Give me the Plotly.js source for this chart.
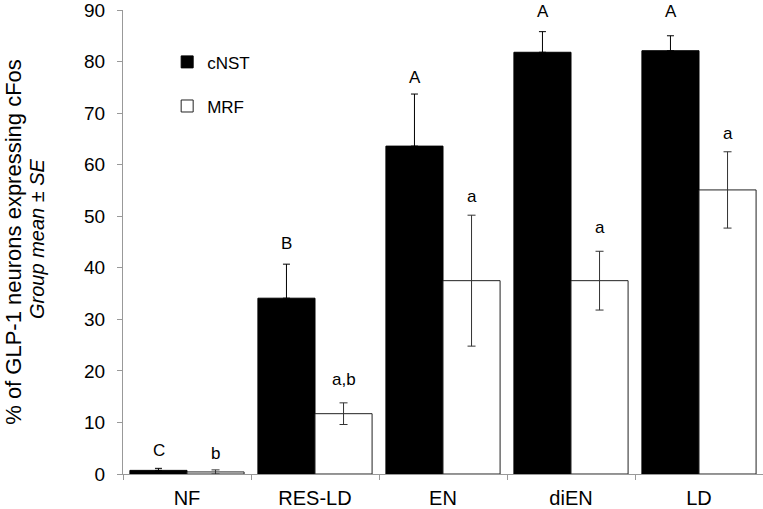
<!DOCTYPE html>
<html>
<head>
<meta charset="utf-8">
<script src="https://cdn.plot.ly/plotly-3.0.1.min.js"></script>
<style>html,body{margin:0;padding:0;background:#fff;}#chart{width:763px;height:509px;}</style>
</head>
<body>
<div id="chart"></div>
<script>
const categories = ["NF", "RES-LD", "EN", "diEN", "LD"];
const cNST = [0.7, 34.1, 63.6, 81.8, 82.1];
const cNSTErr = [0.4, 6.6, 10.1, 4.0, 2.9];
const MRF = [0.4, 11.7, 37.5, 37.5, 55.1];
const MRFErr = [0.4, 2.1, 12.7, 5.7, 7.4];
const cNSTLetters = ["C", "B", "A", "A", "A"];
const cNSTLetterY = [4.6, 44.8, 76.9, 89.8, 89.8];
const MRFLetters = ["b", "a,b", "a", "a", "a"];
const MRFLetterY = [4.0, 18.3, 53.9, 47.8, 66.1];

const font = "Liberation Sans, Arial, Helvetica, sans-serif";

const traces = [
  {
    type: "bar", name: "cNST", x: categories, y: cNST,
    marker: {color: "#000000", line: {color: "#000000", width: 1}},
    error_y: {type: "data", symmetric: false, array: cNSTErr, arrayminus: cNST.map(() => 0),
              color: "#000000", thickness: 1, width: 3.5},
    legendgroup: "g1"
  },
  {
    type: "bar", name: "MRF", x: categories, y: MRF,
    marker: {color: "#ffffff", line: {color: "#222222", width: 1}},
    error_y: {type: "data", array: MRFErr, color: "#333333", thickness: 1, width: 4},
    legendgroup: "g2"
  }
];

const annotations = [];
categories.forEach((c, i) => {
  annotations.push({x: c, y: cNSTLetterY[i], xref: "x", yref: "y", text: cNSTLetters[i],
    xshift: -28.5, showarrow: false, yanchor: "middle", font: {size: 17, color: "#000", family: font}});
  annotations.push({x: c, y: MRFLetterY[i], xref: "x", yref: "y", text: MRFLetters[i],
    xshift: 28.5, showarrow: false, yanchor: "middle", font: {size: 17, color: "#000", family: font}});
});
annotations.push({
  xref: "paper", yref: "paper", x: 0, y: 0.5, xshift: -86, yshift: 3, textangle: -90,
  text: "<i>Group mean ± SE</i>", showarrow: false, xanchor: "center", yanchor: "middle",
  font: {size: 20, color: "#000", family: font}
});

const layout = {
  width: 763, height: 509,
  margin: {l: 123, r: 0, t: 8, b: 34.5},
  paper_bgcolor: "#ffffff", plot_bgcolor: "#ffffff",
  font: {family: font, color: "#000"},
  barmode: "group", bargap: 0.108, bargroupgap: 0,
  showlegend: true,
  legend: {x: 0.069, y: 0.926, xanchor: "left", yanchor: "top", traceorder: "grouped",
           tracegroupgap: 19, font: {size: 17, family: font}, bgcolor: "rgba(0,0,0,0)"},
  xaxis: {
    type: "category", range: [-0.5, 4.5], showline: true, linecolor: "#999", linewidth: 1,
    ticks: "outside", tickson: "boundaries", ticklen: 5, tickcolor: "#999",
    ticklabelstandoff: 6, tickfont: {size: 20, family: font}, showgrid: false, zeroline: false, fixedrange: true
  },
  yaxis: {
    range: [0, 90], dtick: 10, showline: true, linecolor: "#999", linewidth: 1,
    ticks: "outside", ticklen: 5, tickcolor: "#999", ticklabelstandoff: 8, ticklabeloverflow: "allow",
    tickfont: {size: 19, family: font}, showgrid: false, zeroline: false, fixedrange: true,
    automargin: true,
    title: {text: "% of GLP-1 neurons expressing cFos", font: {size: 22, family: font}, standoff: 56}
  },
  annotations: annotations
};

Plotly.newPlot("chart", traces, layout, {displayModeBar: false, staticPlot: true});
</script>
</body>
</html>
